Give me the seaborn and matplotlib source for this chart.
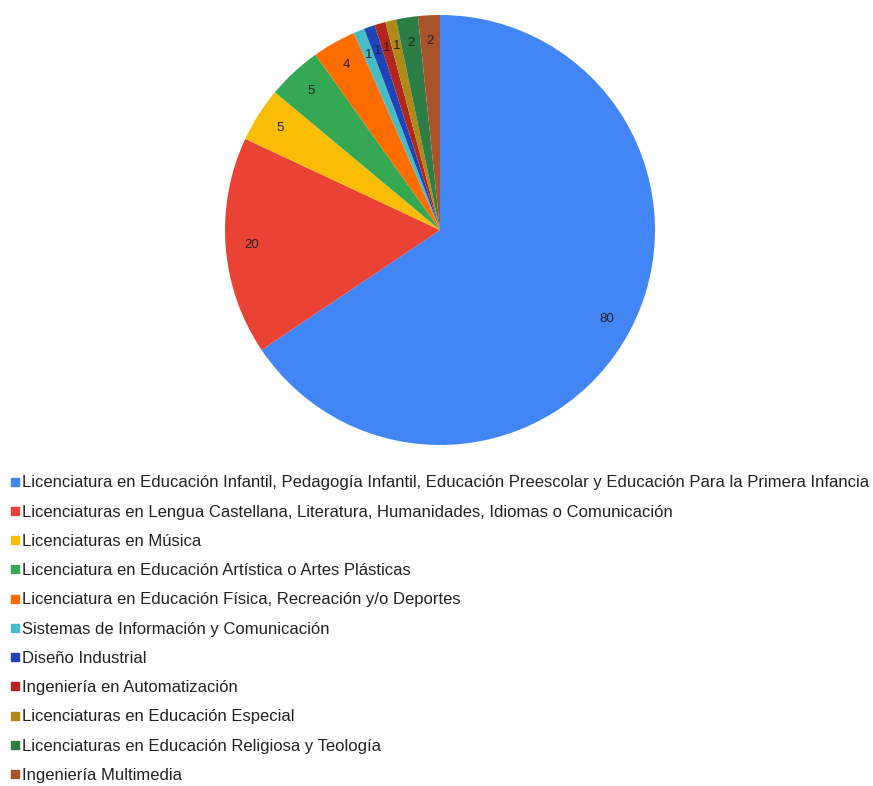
import matplotlib
matplotlib.use("Agg")
import matplotlib.pyplot as plt
import seaborn as sns
from matplotlib.lines import Line2D

categories = [
    "Licenciatura en Educación Infantil, Pedagogía Infantil, Educación Preescolar y Educación Para la Primera Infancia",
    "Licenciaturas en Lengua Castellana, Literatura, Humanidades, Idiomas o Comunicación",
    "Licenciaturas en Música",
    "Licenciatura en Educación Artística o Artes Plásticas",
    "Licenciatura en Educación Física, Recreación y/o Deportes",
    "Sistemas de Información y Comunicación",
    "Diseño Industrial",
    "Ingeniería en Automatización",
    "Licenciaturas en Educación Especial",
    "Licenciaturas en Educación Religiosa y Teología",
    "Ingeniería Multimedia",
]
values = [80, 20, 5, 5, 4, 1, 1, 1, 1, 2, 2]
colors = ["#4285F4", "#EA4335", "#FBBC04", "#34A853", "#FF6D01", "#46BDC6",
          "#1F44B8", "#B3261E", "#B08A14", "#2E7D46", "#A9532B"]

sns.set_theme(style="white")
plt.rcParams['font.family'] = ['Liberation Sans', 'DejaVu Sans']
palette = sns.color_palette(colors)

W, H = 873, 786
fig = plt.figure(figsize=(W / 100, H / 100), dpi=100)
cx, cy, r = 440, 230, 215
ax = fig.add_axes([(cx - r) / W, 1 - (cy + r) / H, 2 * r / W, 2 * r / H])

total = sum(values)
wedges, texts, autotexts = ax.pie(
    values, colors=palette, startangle=90, counterclock=False,
    autopct=lambda p: f"{round(p * total / 100)}", pctdistance=0.88,
    radius=1, wedgeprops=dict(linewidth=0),
    textprops=dict(fontsize=9.5, color="#222222"))
ax.set_xlim(-1, 1)
ax.set_ylim(-1, 1)
ax.set_aspect("equal")
ax.axis("off")

handles = [Line2D([0], [0], marker="s", linestyle="", markersize=6,
                  markerfacecolor=c, markeredgecolor=c) for c in palette]
fig.legend(handles, categories, loc="upper left",
           bbox_to_anchor=(8 / W, 1 - 472 / H), frameon=False,
           fontsize=12, handlelength=0.45, handletextpad=0.2,
           labelspacing=0.855, borderaxespad=0, borderpad=0.2,
           labelcolor="#222222")

fig.savefig("out.png", dpi=100, facecolor="white")
